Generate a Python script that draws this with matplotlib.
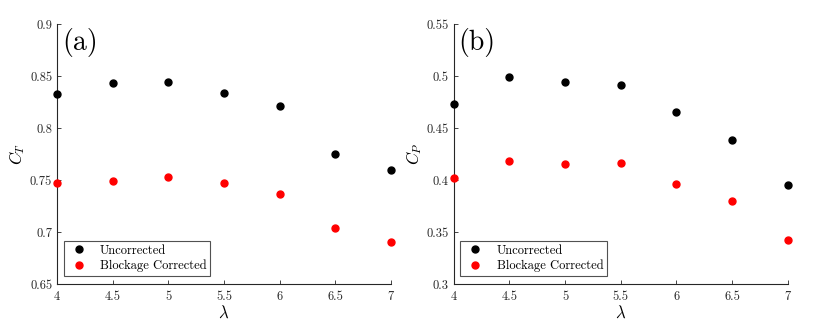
import matplotlib
matplotlib.use("Agg")
import matplotlib.pyplot as plt

plt.rcParams['font.family'] = ['cmr10']
plt.rcParams['mathtext.fontset'] = 'cm'
plt.rcParams['axes.formatter.use_mathtext'] = True

tsr = [4, 4.5, 5, 5.5, 6, 6.5, 7]
ct_uncorr = [0.833, 0.843, 0.844, 0.834, 0.821, 0.775, 0.760]
ct_corr = [0.747, 0.749, 0.753, 0.747, 0.737, 0.704, 0.690]
cp_uncorr = [0.473, 0.499, 0.494, 0.491, 0.465, 0.4385, 0.3955]
cp_corr = [0.4015, 0.418, 0.4155, 0.4165, 0.396, 0.380, 0.342]

ct_ticks = [0.65, 0.7, 0.75, 0.8, 0.85, 0.9]
ct_labels = ['0.65', '0.7', '0.75', '0.8', '0.85', '0.9']
cp_ticks = [0.3, 0.35, 0.4, 0.45, 0.5, 0.55]
cp_labels = ['0.3', '0.35', '0.4', '0.45', '0.5', '0.55']
x_ticks = [4, 4.5, 5, 5.5, 6, 6.5, 7]
x_labels = ['4', '4.5', '5', '5.5', '6', '6.5', '7']

fig = plt.figure(figsize=(8.3, 3.25), dpi=100)
ax1 = fig.add_axes([0.0687, 0.126, 0.4023, 0.80])
ax2 = fig.add_axes([0.5466, 0.126, 0.4024, 0.80])

panels = [
    (ax1, ct_uncorr, ct_corr, ct_ticks, ct_labels, (0.65, 0.9), r'$C_T$', '(a)'),
    (ax2, cp_uncorr, cp_corr, cp_ticks, cp_labels, (0.3, 0.55), r'$C_P$', '(b)'),
]
for ax, unc, cor, yt, yl, ylim, ylab, tag in panels:
    ax.plot(tsr, unc, 'o', color='black', markersize=5, label='Uncorrected', clip_on=False, zorder=3)
    ax.plot(tsr, cor, 'o', color='red', markersize=5, label='Blockage Corrected', clip_on=False, zorder=3)
    ax.set_xlim(4, 7)
    ax.set_ylim(*ylim)
    ax.set_xticks(x_ticks)
    ax.set_xticklabels(x_labels)
    ax.set_yticks(yt)
    ax.set_yticklabels(yl)
    ax.tick_params(direction='in', length=3, width=0.6, labelsize=9, colors='#262626')
    ax.tick_params(axis='x', pad=5)
    for s in ['top', 'right']:
        ax.spines[s].set_visible(False)
    for s in ['left', 'bottom']:
        ax.spines[s].set_color('#262626')
        ax.spines[s].set_linewidth(0.8)
    ax.set_xlabel(r'$\lambda$', fontsize=12, labelpad=1)
    ax.set_ylabel(ylab, fontsize=12, labelpad=2)
    ax.text(0.015, 0.985, tag, transform=ax.transAxes, fontsize=20, va='top', ha='left')
    leg = ax.legend(loc='lower left', bbox_to_anchor=(0.02, 0.03), fontsize=9,
                    frameon=True, fancybox=False, edgecolor='#262626',
                    handletextpad=0.8, borderpad=0.3, labelspacing=0.25,
                    handlelength=1.8, borderaxespad=0)
    leg.get_frame().set_linewidth(0.8)

fig.savefig('out.png', dpi=100)
